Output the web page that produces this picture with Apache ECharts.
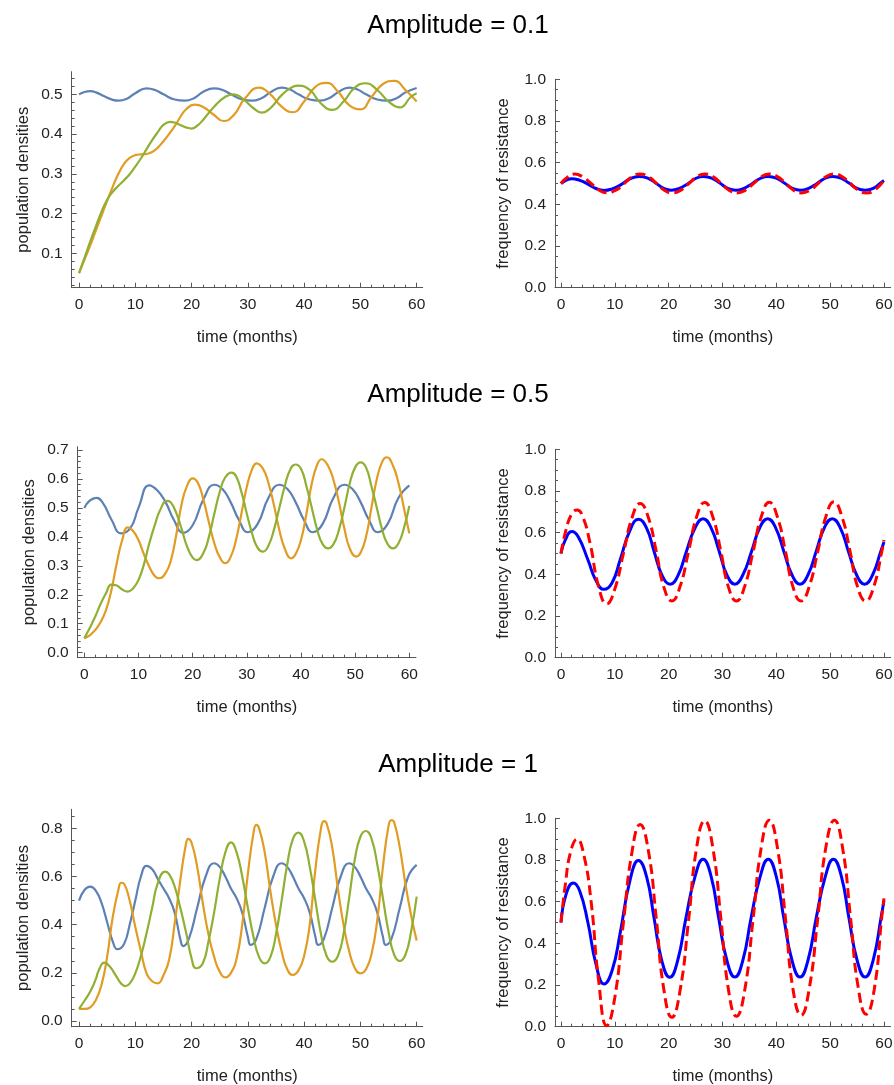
<!DOCTYPE html>
<html>
<head>
<meta charset="utf-8">
<script src="https://cdn.jsdelivr.net/npm/echarts@6/dist/echarts.min.js"></script>
<style>
  html, body { margin: 0; padding: 0; background: #fff; }
  #chart { width: 894px; height: 1085px; }
</style>
</head>
<body>
<div id="chart"></div>
<script>
// tick labels
const timeTicks = [0, 10, 20, 30, 40, 50, 60]
const popTicksA01 = [0.1, 0.2, 0.3, 0.4, 0.5]
const popTicksA05 = [0.0, 0.1, 0.2, 0.3, 0.4, 0.5, 0.6, 0.7]
const popTicksA1 = [0.0, 0.2, 0.4, 0.6, 0.8]
const freqTicks = [0.0, 0.2, 0.4, 0.6, 0.8, 1.0]

// Amplitude = 0.1, population densities [month, value]
const popA01Blue = [[0,0.500],[1,0.506],[2,0.508],[3,0.505],[4.5,0.495],[6,0.486],[7,0.484],[8.5,0.489],[10,0.503],[12,0.515],[13.5,0.511],[15,0.500],[17,0.487],[18.8,0.484],[20.5,0.491],[22,0.506],[24,0.515],[25.5,0.511],[27,0.500],[29,0.487],[30.7,0.484],[32.5,0.491],[34,0.505],[36,0.517],[37.5,0.512],[39,0.500],[41,0.487],[42.8,0.484],[44.5,0.491],[46,0.505],[48,0.517],[49.5,0.512],[51,0.500],[53,0.487],[54.7,0.484],[56.5,0.491],[58,0.505],[60,0.516]]
const popA01Orange = [[0,0.05],[1,0.085],[2,0.12],[3,0.158],[4,0.195],[5,0.232],[6,0.268],[7,0.300],[8,0.325],[9,0.340],[10,0.347],[11,0.349],[12,0.350],[13,0.355],[14,0.366],[15,0.382],[16,0.400],[17,0.420],[18,0.443],[19,0.462],[20.5,0.474],[22,0.469],[24,0.448],[25.7,0.433],[27.5,0.448],[29.5,0.490],[32,0.517],[34,0.500],[36,0.469],[38,0.455],[40,0.482],[42,0.519],[44,0.529],[46,0.507],[48,0.473],[50,0.462],[52,0.494],[54,0.526],[56,0.534],[58,0.511],[60,0.482]]
const popA01Green = [[0,0.05],[1,0.09],[2,0.13],[3,0.168],[4,0.205],[5,0.235],[6,0.255],[7,0.270],[8,0.284],[9,0.299],[10,0.318],[11,0.339],[12,0.362],[13,0.385],[14,0.405],[15,0.423],[16.2,0.431],[17,0.429],[18,0.423],[19,0.417],[20,0.414],[21,0.421],[22,0.435],[24,0.469],[26,0.494],[27.5,0.500],[29,0.490],[31,0.465],[32.5,0.454],[34,0.465],[36,0.498],[38,0.519],[39,0.522],[41,0.511],[43,0.477],[45,0.461],[47,0.482],[49,0.517],[51,0.528],[53,0.511],[55,0.482],[57,0.467],[59,0.494],[60,0.503]]

// Amplitude = 0.1, frequency of resistance
const freqA01Blue = [[0,0.500],[1,0.516],[2,0.523],[3.5,0.515],[5,0.497],[6.5,0.476],[8,0.467],[9.5,0.474],[11,0.492],[12.8,0.522],[14.5,0.534],[16,0.527],[17.5,0.504],[19,0.478],[20.5,0.468],[22,0.477],[23.5,0.498],[25,0.524],[26.5,0.534],[28,0.526],[29.5,0.502],[31,0.477],[32.5,0.468],[34,0.477],[35.5,0.499],[37,0.524],[38.5,0.534],[40,0.526],[41.5,0.502],[43,0.477],[44.5,0.468],[46,0.477],[47.5,0.499],[49,0.524],[50.5,0.534],[52,0.526],[53.5,0.502],[55,0.477],[56.5,0.468],[58,0.477],[59.5,0.505],[60,0.514]]
const freqA01Red = [[0,0.500],[1.2,0.530],[2.6,0.545],[4,0.532],[5.6,0.500],[7.1,0.468],[8.6,0.455],[10.1,0.467],[11.7,0.498],[13.2,0.532],[14.7,0.546],[16.2,0.533],[17.7,0.502],[19.2,0.468],[20.7,0.455],[22.2,0.467],[23.7,0.498],[25.2,0.532],[26.7,0.546],[28.2,0.533],[29.7,0.502],[31.2,0.468],[32.7,0.455],[34.2,0.467],[35.7,0.498],[37.2,0.532],[38.7,0.546],[40.2,0.533],[41.7,0.502],[43.2,0.468],[44.7,0.455],[46.2,0.467],[47.7,0.498],[49.2,0.532],[50.7,0.546],[52.2,0.533],[53.7,0.502],[55.2,0.468],[56.7,0.455],[58.2,0.467],[60,0.515]]

// Amplitude = 0.5, population densities
const popA05Blue = [[0,0.50],[1,0.525],[2.2,0.535],[3.5,0.515],[5,0.46],[6.8,0.412],[8.5,0.43],[10,0.50],[12,0.578],[13.5,0.56],[15,0.52],[16.5,0.46],[18.3,0.414],[20,0.44],[22,0.53],[24,0.580],[25.5,0.565],[27,0.52],[28.5,0.46],[30.2,0.416],[32,0.445],[34,0.535],[36,0.580],[37.5,0.565],[39,0.52],[40.5,0.46],[42.2,0.416],[44,0.445],[46,0.535],[48,0.580],[49.5,0.565],[51,0.52],[52.5,0.46],[54.2,0.416],[56,0.445],[58,0.535],[60,0.578]]
const popA05Orange = [[0,0.05],[1,0.06],[2,0.078],[3,0.105],[4,0.147],[5,0.216],[6,0.31],[7,0.389],[8,0.433],[9,0.42],[10,0.389],[11,0.34],[12,0.297],[13,0.265],[13.8,0.257],[15,0.275],[16,0.32],[17,0.41],[18,0.516],[19,0.578],[20,0.602],[21,0.585],[22,0.527],[23,0.45],[24,0.378],[25,0.33],[26,0.309],[27,0.33],[28,0.389],[29,0.48],[30,0.573],[31,0.635],[31.8,0.654],[33,0.635],[34,0.585],[35,0.51],[36,0.424],[37,0.36],[38.2,0.326],[39,0.34],[40,0.389],[41,0.48],[42,0.585],[43,0.65],[43.8,0.668],[45,0.645],[46,0.596],[47,0.52],[48,0.43],[49,0.36],[50.2,0.332],[51,0.345],[52,0.40],[53,0.50],[54,0.60],[55,0.66],[55.8,0.675],[57,0.645],[58,0.585],[59,0.50],[60,0.412]]
const popA05Green = [[0,0.05],[1,0.085],[2,0.124],[3,0.168],[4,0.205],[5,0.235],[6,0.232],[7,0.218],[8,0.211],[9,0.222],[10,0.251],[11,0.305],[12,0.378],[13,0.44],[14,0.493],[15.3,0.524],[16,0.518],[17,0.481],[18,0.425],[19,0.365],[20,0.328],[20.7,0.32],[22,0.345],[23,0.40],[24,0.48],[25,0.555],[26,0.605],[27.2,0.622],[28,0.61],[29,0.555],[30,0.48],[31,0.41],[32,0.362],[33,0.349],[34,0.37],[35,0.424],[36,0.50],[37,0.575],[38,0.632],[39,0.65],[40,0.635],[41,0.575],[42,0.50],[43,0.424],[44,0.375],[45,0.36],[46,0.375],[47,0.424],[48,0.50],[49,0.585],[50,0.64],[51,0.657],[52,0.64],[53,0.575],[54,0.50],[55,0.424],[56,0.375],[57,0.36],[58,0.378],[59,0.43],[60,0.507]]

// Amplitude = 0.5, frequency of resistance
const freqA05Blue = [[0,0.50],[0.8,0.565],[2,0.605],[3.2,0.58],[5,0.47],[6.5,0.37],[8,0.328],[9.5,0.36],[11,0.47],[12.8,0.61],[14.4,0.664],[15.9,0.622],[17.3,0.51],[18.8,0.394],[20.3,0.353],[21.8,0.398],[23.3,0.51],[24.9,0.622],[26.4,0.667],[27.9,0.622],[29.4,0.51],[30.8,0.398],[32.3,0.353],[33.8,0.398],[35.4,0.51],[36.9,0.622],[38.4,0.667],[39.9,0.622],[41.4,0.51],[42.9,0.398],[44.4,0.353],[45.9,0.398],[47.4,0.51],[48.9,0.622],[50.4,0.667],[51.9,0.622],[53.4,0.51],[54.9,0.398],[56.4,0.353],[57.9,0.398],[59.4,0.51],[60,0.555]]
const freqA05Red = [[0,0.50],[1,0.62],[2,0.69],[3,0.709],[4,0.68],[5.4,0.55],[7,0.34],[8.5,0.258],[10,0.33],[11.6,0.50],[13.2,0.672],[14.7,0.740],[16.2,0.675],[17.7,0.51],[19.1,0.34],[20.6,0.272],[22.1,0.34],[23.7,0.51],[25.2,0.676],[26.7,0.745],[28.2,0.676],[29.7,0.51],[31.1,0.34],[32.6,0.272],[34.1,0.34],[35.7,0.51],[37.2,0.676],[38.7,0.746],[40.2,0.676],[41.7,0.51],[43.1,0.34],[44.6,0.272],[46.1,0.34],[47.7,0.51],[49.2,0.676],[50.7,0.748],[52.2,0.676],[53.7,0.51],[55.1,0.34],[56.6,0.272],[58.1,0.34],[59.6,0.51],[60,0.565]]

// Amplitude = 1, population densities
const popA1Blue = [[0,0.50],[1,0.545],[2,0.558],[3,0.54],[4,0.49],[5,0.41],[6,0.33],[6.8,0.298],[8,0.32],[9,0.40],[10,0.50],[11,0.60],[12,0.644],[13,0.63],[14,0.59],[15,0.55],[16,0.51],[17,0.45],[18,0.34],[18.5,0.311],[19.5,0.34],[21,0.47],[22.5,0.60],[24,0.655],[25,0.64],[26,0.60],[27,0.55],[28,0.51],[29,0.45],[30,0.35],[30.5,0.316],[31.5,0.34],[33,0.47],[34.5,0.60],[36,0.655],[37,0.64],[38,0.60],[39,0.55],[40,0.51],[41,0.45],[42,0.35],[42.5,0.316],[43.5,0.34],[45,0.47],[46.5,0.60],[48,0.655],[49,0.64],[50,0.60],[51,0.55],[52,0.51],[53,0.45],[54,0.35],[54.5,0.316],[55.5,0.34],[57,0.47],[58.5,0.60],[60,0.648]]
const popA1Orange = [[0,0.05],[1,0.05],[2,0.057],[3,0.087],[4,0.15],[5,0.267],[6,0.433],[7,0.545],[7.5,0.574],[8,0.57],[9,0.50],[10,0.39],[11,0.29],[12,0.198],[13,0.165],[14,0.156],[15,0.19],[16,0.253],[17,0.405],[18,0.585],[19,0.735],[19.4,0.756],[20,0.74],[21,0.64],[22,0.489],[23,0.36],[24,0.267],[25,0.205],[26,0.181],[27,0.20],[28,0.26],[29,0.40],[30,0.61],[31,0.78],[31.5,0.814],[32,0.80],[33,0.70],[34,0.54],[35,0.40],[36,0.29],[37,0.215],[38,0.191],[39,0.21],[40,0.27],[41,0.40],[42,0.63],[43,0.80],[43.5,0.83],[44,0.82],[45,0.72],[46,0.55],[47,0.40],[48,0.29],[49,0.22],[50,0.198],[51,0.215],[52,0.28],[53,0.42],[54,0.64],[55,0.81],[55.5,0.834],[56,0.825],[57,0.72],[58,0.57],[59,0.44],[60,0.334]]
const popA1Green = [[0,0.05],[1,0.085],[2,0.122],[3,0.175],[3.5,0.21],[4.5,0.242],[5.5,0.225],[6.5,0.19],[7.5,0.155],[8.2,0.145],[9,0.155],[10,0.198],[11,0.27],[12,0.364],[13,0.47],[14,0.572],[15.3,0.62],[16,0.61],[17,0.558],[18,0.47],[19,0.37],[20,0.26],[20.8,0.219],[22,0.24],[23,0.33],[24,0.45],[25,0.59],[26,0.70],[27,0.742],[28,0.70],[29,0.60],[30,0.47],[31,0.35],[32,0.265],[33,0.239],[34,0.265],[35,0.36],[36,0.50],[37,0.65],[38,0.755],[39,0.782],[40,0.745],[41,0.64],[42,0.50],[43,0.36],[44,0.27],[45,0.246],[46,0.27],[47,0.36],[48,0.51],[49,0.67],[50,0.765],[51,0.789],[52,0.755],[53,0.65],[54,0.51],[55,0.37],[56,0.275],[57,0.249],[58,0.275],[59,0.37],[60,0.516]]

// Amplitude = 1, frequency of resistance
const freqA1Blue = [[0,0.50],[1,0.64],[2.3,0.690],[3.5,0.65],[5,0.50],[6.5,0.30],[8,0.205],[9.5,0.27],[11,0.45],[12.8,0.70],[14.4,0.797],[15.9,0.72],[17.3,0.52],[18.7,0.32],[20.2,0.237],[21.7,0.32],[23.2,0.52],[24.9,0.72],[26.4,0.803],[27.9,0.72],[29.3,0.52],[30.8,0.32],[32.3,0.238],[33.8,0.32],[35.3,0.52],[37,0.72],[38.5,0.804],[40,0.72],[41.4,0.52],[42.9,0.32],[44.4,0.238],[45.9,0.32],[47.4,0.52],[49.1,0.72],[50.6,0.804],[52.1,0.72],[53.5,0.52],[55,0.32],[56.5,0.238],[58,0.32],[59.5,0.53],[60,0.605]]
const freqA1Red = [[0,0.50],[0.8,0.68],[1.8,0.84],[3,0.90],[4.2,0.83],[5.6,0.60],[7,0.22],[8.5,0.005],[10,0.14],[11.6,0.50],[13.2,0.84],[14.7,0.970],[16.2,0.85],[17.7,0.52],[19.1,0.18],[20.6,0.045],[22.1,0.17],[23.7,0.51],[25.2,0.86],[26.7,0.988],[28.2,0.86],[29.7,0.52],[31.1,0.18],[32.6,0.050],[34.1,0.17],[35.7,0.52],[37.2,0.86],[38.7,0.991],[40.2,0.86],[41.7,0.52],[43.1,0.18],[44.6,0.055],[46.1,0.18],[47.7,0.52],[49.2,0.86],[50.8,0.991],[52.3,0.86],[53.8,0.52],[55.2,0.19],[56.7,0.060],[58.2,0.18],[59.6,0.53],[60,0.616]]

const font = "'Liberation Sans', Arial, Helvetica, sans-serif"
const axisColor = '#555'
const textColor = '#222'

// minor tick positions between the labelled ones
function minorTicks(from, to, step, majors) {
  const out = []
  const n = Math.round((to - from) / step)
  for (let k = 0; k <= n; k++) {
    const v = Math.round((from + k * step) * 1000) / 1000
    if (!majors.some((m) => Math.abs(m - v) < 1e-6)) out.push(v)
  }
  return out
}

const timeMinor = minorTicks(2, 60, 2, timeTicks)

const popColors = ['#5E81B5', '#E19C24', '#8FB032']

const panels = [
  { left: 71.7, top: 71.7, width: 351, height: 216, xMin: -1.3, xMax: 61.07, yMin: 0.0135, yMax: 0.557,
    yTicks: popTicksA01, yMinor: minorTicks(0.02, 0.54, 0.02, popTicksA01), yName: 'population densities',
    lines: [popA01Blue, popA01Orange, popA01Green] },
  { left: 555, top: 79.3, width: 335.7, height: 208.4, xMin: -1.11, xMax: 61.25, yMin: 0, yMax: 1,
    yTicks: freqTicks, yMinor: minorTicks(0.05, 0.95, 0.05, freqTicks), yName: 'frequency of resistance',
    freq: [freqA01Blue, freqA01Red] },
  { left: 77.7, top: 446.7, width: 338.3, height: 211, xMin: -1.22, xMax: 61.23, yMin: -0.0173, yMax: 0.7114,
    yTicks: popTicksA05, yMinor: minorTicks(0.02, 0.68, 0.02, popTicksA05), yName: 'population densities',
    lines: [popA05Blue, popA05Orange, popA05Green] },
  { left: 555, top: 449.3, width: 335.7, height: 208.4, xMin: -1.11, xMax: 61.25, yMin: 0, yMax: 1,
    yTicks: freqTicks, yMinor: minorTicks(0.05, 0.95, 0.05, freqTicks), yName: 'frequency of resistance',
    freq: [freqA05Blue, freqA05Red] },
  { left: 71.7, top: 809.3, width: 351, height: 217.4, xMin: -1.3, xMax: 61.07, yMin: -0.0237, yMax: 0.879,
    yTicks: popTicksA1, yMinor: minorTicks(0.05, 0.85, 0.05, popTicksA1), yName: 'population densities',
    lines: [popA1Blue, popA1Orange, popA1Green] },
  { left: 555, top: 818.3, width: 335.7, height: 208.4, xMin: -1.11, xMax: 61.25, yMin: 0, yMax: 1,
    yTicks: freqTicks, yMinor: minorTicks(0.05, 0.95, 0.05, freqTicks), yName: 'frequency of resistance',
    freq: [freqA1Blue, freqA1Red] },
]

const labelStyle = { fontSize: 15.5, color: textColor, fontFamily: font }
const nameStyle = { fontSize: 16.5, color: textColor, fontFamily: font }

function titleAt(text, top) {
  return {
    text, left: 453, top, textAlign: 'center',
    textStyle: { fontSize: 26, fontWeight: 'normal', color: '#000', fontFamily: font },
  }
}

const option = {
  animation: false,
  backgroundColor: '#fff',
  title: [titleAt('Amplitude = 0.1', 8), titleAt('Amplitude = 0.5', 377), titleAt('Amplitude = 1', 747)],
  grid: [],
  xAxis: [],
  yAxis: [],
  series: [],
}

panels.forEach((p, i) => {
  option.grid.push({ left: p.left, top: p.top, width: p.width, height: p.height, outerBoundsMode: 'none' })

  // labelled axes
  option.xAxis.push({
    type: 'value', gridIndex: i, position: 'bottom', min: p.xMin, max: p.xMax,
    name: 'time (months)', nameLocation: 'middle', nameGap: 41, nameTextStyle: nameStyle,
    axisLine: { show: true, onZero: false, lineStyle: { color: axisColor, width: 1 } },
    axisTick: { show: true, inside: true, length: 5, customValues: timeTicks, lineStyle: { color: axisColor } },
    axisLabel: { show: true, customValues: timeTicks, margin: 9, ...labelStyle },
    splitLine: { show: false },
  })
  option.yAxis.push({
    type: 'value', gridIndex: i, position: 'left', min: p.yMin, max: p.yMax,
    name: p.yName, nameLocation: 'middle', nameGap: p.freq ? 43.5 : 40, nameTextStyle: nameStyle,
    axisLine: { show: true, onZero: false, lineStyle: { color: axisColor, width: 1 } },
    axisTick: { show: true, inside: true, length: 5, customValues: p.yTicks, lineStyle: { color: axisColor } },
    axisLabel: { show: true, customValues: p.yTicks, margin: 9, formatter: (v) => v.toFixed(1), ...labelStyle },
    splitLine: { show: false },
  })
  // minor ticks
  option.xAxis.push({
    type: 'value', gridIndex: i, position: 'bottom', min: p.xMin, max: p.xMax,
    axisLine: { show: false, onZero: false },
    axisTick: { show: true, inside: true, length: 3, customValues: timeMinor, lineStyle: { color: axisColor } },
    axisLabel: { show: false }, splitLine: { show: false },
  })
  option.yAxis.push({
    type: 'value', gridIndex: i, position: 'left', min: p.yMin, max: p.yMax,
    axisLine: { show: false, onZero: false },
    axisTick: { show: true, inside: true, length: 3, customValues: p.yMinor, lineStyle: { color: axisColor } },
    axisLabel: { show: false }, splitLine: { show: false },
  })

  const base = { type: 'line', xAxisIndex: 2 * i, yAxisIndex: 2 * i, showSymbol: false, smooth: 0.5, silent: true }
  if (p.lines) {
    p.lines.forEach((data, k) => {
      option.series.push({ ...base, data, lineStyle: { color: popColors[k], width: 2.2 }, itemStyle: { color: popColors[k] } })
    })
  } else {
    option.series.push({ ...base, data: p.freq[0], lineStyle: { color: '#0000FF', width: 3 }, itemStyle: { color: '#0000FF' } })
    option.series.push({ ...base, data: p.freq[1], lineStyle: { color: '#FF0000', width: 3, type: [10, 5] }, itemStyle: { color: '#FF0000' } })
  }
})

const chart = echarts.init(document.getElementById('chart'))
chart.setOption(option)
</script>
</body>
</html>
